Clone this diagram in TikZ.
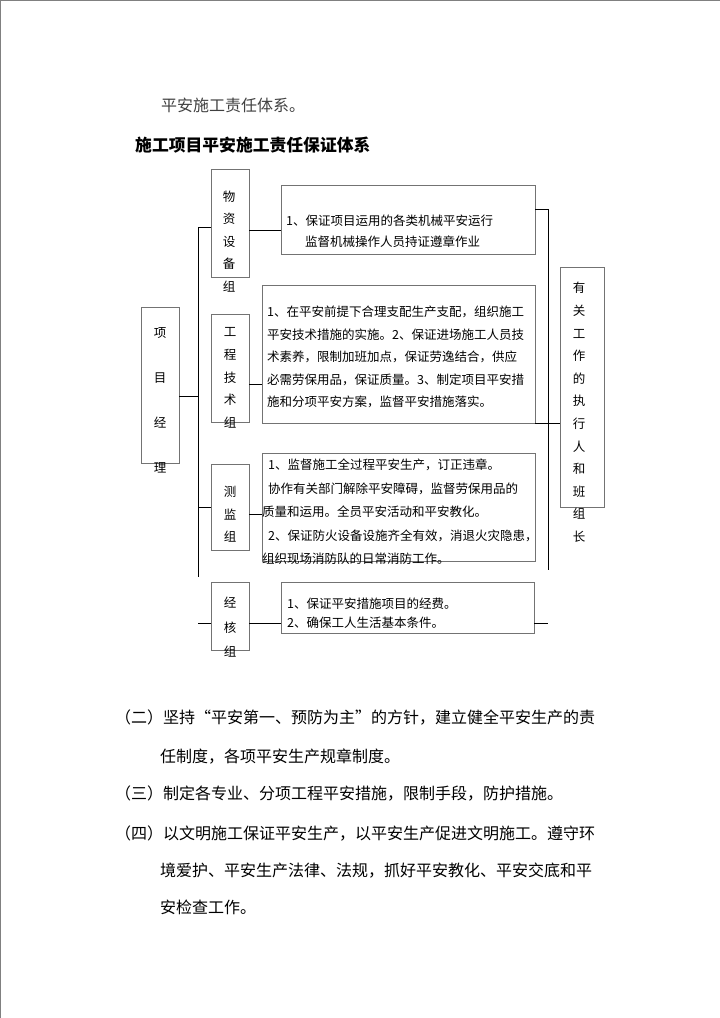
\documentclass[tikz,border=0pt]{standalone}
\usepackage{fontspec}
\newfontfamily\cjk{Noto Sans CJK SC}
\begin{document}
\begin{tikzpicture}[x=1pt,y=-1pt,
  box/.style={draw=black!55,line width=1pt,inner sep=0pt,outer sep=0pt},
  vtext/.style={font=\cjk\fontsize{12.5}{22.6}\selectfont,align=center,inner sep=0pt},
  ptext/.style={font=\cjk\fontsize{12.5}{22.5}\selectfont,align=left,anchor=west,inner sep=0pt},
  body/.style={font=\cjk\fontsize{16}{38}\selectfont,align=left,anchor=west,inner sep=0pt},
  link/.style={draw=black,line width=0.8pt}]
\useasboundingbox (0,0) rectangle (720,1018);
% page edge
\draw[black!50,line width=1.2pt] (0.6,1018) -- (0.6,0.6) -- (720,0.6);
\node[font=\cjk\fontsize{16}{20}\selectfont,text=black!75,anchor=west,inner sep=0pt] (intro) at (161,105) {平安施工责任体系。};
\node[font=\cjk\bfseries\fontsize{16.8}{20}\selectfont,anchor=west,inner sep=0pt] (title) at (135,145) {施工项目平安施工责任保证体系};
% boxes
\node[box,minimum width=38pt,minimum height=156pt] (zz) at (160,385) {};
\node[box,minimum width=38pt,minimum height=108pt] (wz) at (230,223) {};
\node[box,minimum width=38pt,minimum height=108pt] (gc) at (230,368) {};
\node[box,minimum width=38pt,minimum height=86pt] (cj) at (230,507) {};
\node[box,minimum width=38pt,minimum height=68pt] (jh) at (230,616) {};
\node[box,minimum width=44pt,minimum height=240pt] (yg) at (582,387) {};
\node[box,minimum width=254pt,minimum height=69pt] (t1) at (408,219.5) {};
\node[box,minimum width=273pt,minimum height=138pt] (t2) at (398.5,354) {};
\node[box,minimum width=273pt,minimum height=108pt] (t3) at (398.5,507) {};
\node[box,minimum width=253pt,minimum height=51pt] (t4) at (407.5,607.5) {};
% vertical labels
\node[vtext,font=\cjk\fontsize{12.5}{45}\selectfont] (zzl) at (160,400.5) {项\\目\\经\\理};
\node[vtext] (wzl) at (229,241.5) {物\\资\\设\\备\\组};
\node[vtext] (gcl) at (230,378) {工\\程\\技\\术\\组};
\node[vtext] (cjl) at (230,514.5) {测\\监\\组};
\node[vtext,font=\cjk\fontsize{12.5}{24.5}\selectfont] (jhl) at (230,627.5) {经\\核\\组};
\node[vtext] (ygl) at (579,412.5) {有\\关\\工\\作\\的\\执\\行\\人\\和\\班\\组\\长};
% duty texts
\node[ptext,font=\cjk\fontsize{12.5}{21}\selectfont] (t1l) at (286,231.5) {1、保证项目运用的各类机械平安运行\\\hspace*{19pt}监督机械操作人员持证遵章作业};
\node[ptext] (t2l) at (267,357) {1、在平安前提下合理支配生产支配，组织施工\\平安技术措施的实施。2、保证进场施工人员技\\术素养，限制加班加点，保证劳逸结合，供应\\必需劳保用品，保证质量。3、制定项目平安措\\施和分项平安方案，监督平安措施落实。};
\node[ptext,font=\cjk\fontsize{12.5}{23.5}\selectfont] (t3l) at (262,512) {\hspace*{6pt}1、监督施工全过程平安生产，订正违章。\\\hspace*{6pt}协作有关部门解除平安障碍，监督劳保用品的\\质量和运用。全员平安活动和平安教化。\\\hspace*{6pt}2、保证防火设备设施齐全有效，消退火灾隐患，\\组织现场消防队的日常消防工作。};
\node[ptext,font=\cjk\fontsize{12.5}{19}\selectfont] (t4l) at (287,613.5) {1、保证平安措施项目的经费。\\2、确保工人生活基本条件。};
% connectors
\coordinate (lb) at (198,577);
\coordinate (rb) at (548,570);
\draw[link] ([yshift=-4pt]wz.west) -| (lb);
\draw[link] ([yshift=10.5pt]t1.east) -| (rb);
\draw[link] ([yshift=-11pt]zz.east) -- ([yshift=-11pt]zz.east -| lb);
\draw[link] ([yshift=-7pt]wz.east) -- ([yshift=-7pt]wz.east -| t1.west);
\draw[link] ([yshift=-16pt]gc.east) -- ([yshift=-16pt]gc.east -| t2.west);
\draw[link] (t2.south east) -- (t2.south east -| yg.west);
\draw[link] (cj.west) -- (cj.west -| lb);
\draw[link] ([yshift=-7pt]cj.east) -- ([yshift=-7pt]cj.east -| t3.west);
\draw[link] ([yshift=-7pt]jh.west) -- ([yshift=-7pt]jh.west -| lb);
\draw[link] ([yshift=-7pt]jh.east) -- ([yshift=-7pt]jh.east -| t4.west);
\draw[link] ([yshift=-15.5pt]t4.east) -- ([yshift=-15.5pt]t4.east -| rb);
% paragraphs
\node[body,font=\cjk\fontsize{16}{39}\selectfont] (p2) at (115,736.5) {（二）坚持“平安第一、预防为主”的方针，建立健全平安生产的责\\\hspace*{45pt}任制度，各项平安生产规章制度。};
\node[body] (p3) at (115,793) {（三）制定各专业、分项工程平安措施，限制手段，防护措施。};
\node[body,font=\cjk\fontsize{16}{37}\selectfont] (p4) at (115,870) {（四）以文明施工保证平安生产，以平安生产促进文明施工。遵守环\\\hspace*{45pt}境爱护、平安生产法律、法规，抓好平安教化、平安交底和平\\\hspace*{45pt}安检查工作。};
\end{tikzpicture}
\end{document}
